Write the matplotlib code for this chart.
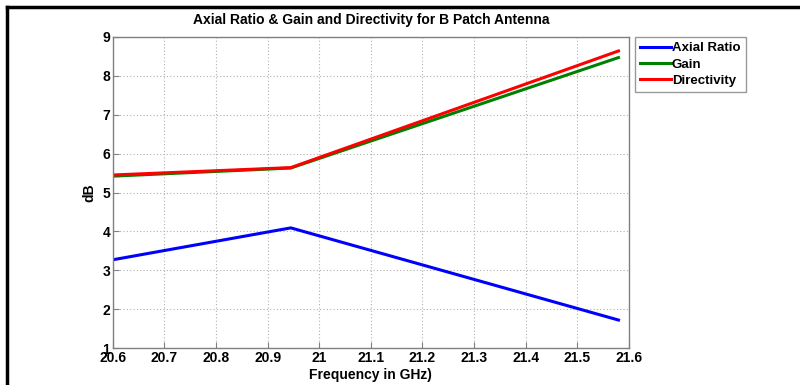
import numpy as np
import matplotlib.pyplot as plt
from matplotlib.lines import Line2D

# antenna sweep results
freq_ghz = [20.6, 20.945, 21.58]
axial_ratio = [3.27, 4.09, 1.72]
gain = [5.42, 5.63, 8.47]
directivity = [5.45, 5.64, 8.64]

xticks = [20.6, 20.7, 20.8, 20.9, 21.0, 21.1, 21.2, 21.3, 21.4, 21.5, 21.6]
xtick_labels = ["20.6", "20.7", "20.8", "20.9", "21", "21.1", "21.2", "21.3", "21.4", "21.5", "21.6"]
yticks = [1, 2, 3, 4, 5, 6, 7, 8, 9]

plt.rcParams['font.family'] = ['Liberation Sans', 'DejaVu Sans']
plt.rcParams['font.weight'] = 'bold'
fs = 10

fig = plt.figure(figsize=(8.0, 3.85), dpi=100)
ax = fig.add_axes([0.141, 0.096, 0.645, 0.808])

ax.plot(freq_ghz, axial_ratio, color="#0000ff", linewidth=2.2, label="Axial Ratio")
ax.plot(freq_ghz, gain, color="#008000", linewidth=2.2, label="Gain")
ax.plot(freq_ghz, directivity, color="#ff0000", linewidth=2.2, label="Directivity")

ax.set_xlim(20.6, 21.6)
ax.set_ylim(1, 9)
ax.set_xticks(xticks)
ax.set_xticklabels(xtick_labels)
ax.set_yticks(yticks)
ax.tick_params(direction="in", length=4, color="#808080", labelsize=fs, pad=2)
for lbl in ax.get_xticklabels() + ax.get_yticklabels():
    lbl.set_fontweight("bold")
for sp in ax.spines.values():
    sp.set_color("#808080")
    sp.set_linewidth(1.0)
ax.grid(True, linestyle=(0, (1, 2)), color="#b0b0b0", linewidth=0.8)

ax.set_title("Axial Ratio & Gain and Directivity for B Patch Antenna", fontsize=fs, fontweight="bold", pad=9)
ax.set_xlabel("Frequency in GHz)", fontsize=fs, fontweight="bold", labelpad=2)
ax.set_ylabel("dB", fontsize=fs, fontweight="bold", labelpad=4)

leg = ax.legend(loc="upper left", bbox_to_anchor=(1.012, 1.0), fontsize=9.5, frameon=True,
                fancybox=False, borderpad=0.4, handlelength=2.3, handletextpad=0.1,
                labelspacing=0.3, borderaxespad=0)
leg.get_frame().set_edgecolor("#808080")
leg.get_frame().set_linewidth(1.0)
for t in leg.get_texts():
    t.set_fontweight("bold")

# outer black frame (top and left edges)
fig.add_artist(Line2D([7 / 800, 1.0], [1 - 7 / 385, 1 - 7 / 385], color="black", linewidth=2.5,
                      transform=fig.transFigure))
fig.add_artist(Line2D([7 / 800, 7 / 800], [0.0, 1 - 7 / 385], color="black", linewidth=2.5,
                      transform=fig.transFigure))

fig.savefig("out.png", dpi=100)
